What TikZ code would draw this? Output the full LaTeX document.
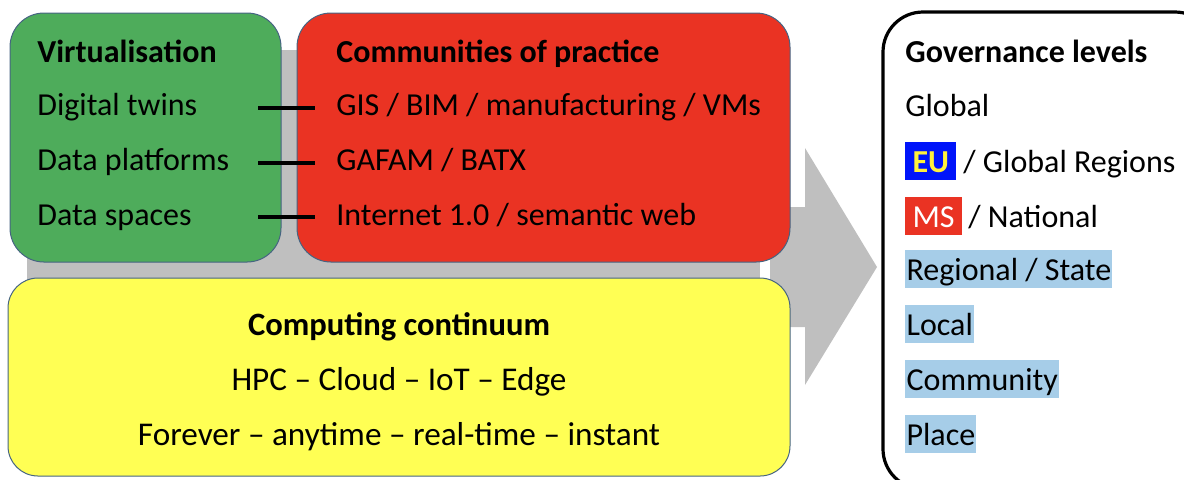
\documentclass[tikz,border=0pt]{standalone}
\usepackage{fontspec}
\setmainfont{Carlito}
\definecolor{cgreen}{RGB}{78,172,91}
\definecolor{cred}{RGB}{234,51,35}
\definecolor{cyellow}{RGB}{255,255,84}
\definecolor{agray}{RGB}{191,191,191}
\definecolor{outl}{RGB}{70,100,130}
\definecolor{hlblue}{RGB}{166,205,232}
\definecolor{eublue}{RGB}{0,20,250}
\definecolor{euyellow}{RGB}{255,240,60}
\begin{document}
\begin{tikzpicture}[x=0.5pt,y=-0.5pt,
  fnt/.style={font=\fontsize{16}{18}\selectfont},
  txt/.style={fnt,anchor=base west,inner sep=0pt},
  ctxt/.style={font=\fontsize{16.6}{19}\selectfont,anchor=base,inner sep=0pt},
  bfont/.style={font=\fontsize{16}{18}\selectfont\bfseries},
  cbfont/.style={font=\fontsize{16.3}{19}\selectfont\bfseries},
  box/.style={draw=outl,line width=0.5pt,rounded corners=17pt},
  link/.style={line width=2pt,black},
  tag/.style={fnt,anchor=base west,inner xsep=3.6pt,inner ysep=2pt,text height=13pt,text depth=2pt},
  hl/.style={fnt,anchor=base west,fill=hlblue,inner xsep=0.6pt,inner ysep=2pt,text height=13pt,text depth=2pt}]
\useasboundingbox (0,0) rectangle (1184,479);
\clip (0,0) rectangle (1184,479);
% gray arrow
\fill[agray] (27,50) rectangle (760,420);
\fill[agray] (770,207) -- (805,207) -- (805,148) -- (877,267) -- (805,385) -- (805,327) -- (770,327) -- cycle;
% boxes
\path[box,fill=cgreen] (10,13) rectangle (281,262);
\path[box,fill=cred] (297,13) rectangle (790,262);
\path[box,fill=cyellow,rounded corners=15pt] (8,278) rectangle (790,476);
\draw[line width=1.6pt,rounded corners=20pt] (883,12) rectangle (1215,489);
% green texts
\node[txt,bfont] (virt) at (37,62) {Virtualisation};
\node[txt] (dt) at (37,115) {Digital twins};
\node[txt] (dp) at (37,170) {Data platforms};
\node[txt] (ds) at (37,225) {Data spaces};
% red texts
\node[txt,bfont] (cop) at (336,62) {Communities of practice};
\node[txt] (gis) at (336,115) {GIS / BIM / manufacturing / VMs};
\node[txt] (gafam) at (336,170) {GAFAM / BATX};
\node[txt] (inet) at (336,225) {Internet 1.0 / semantic web};
% links
\coordinate (l1a) at (258,108); \coordinate (l1b) at (315,108);
\coordinate (l2a) at (258,163); \coordinate (l2b) at (315,163);
\coordinate (l3a) at (258,217); \coordinate (l3b) at (315,217);
\draw[link] (l1a) -- (l1b);
\draw[link] (l2a) -- (l2b);
\draw[link] (l3a) -- (l3b);
% yellow texts
\node[ctxt,cbfont] (cc) at (399,335) {Computing continuum};
\node[ctxt] (hpc) at (399,390) {HPC – Cloud – IoT – Edge};
\node[ctxt] (fev) at (399,445) {Forever – anytime – real-time – instant};
% governance
\node[txt,bfont] (gov) at (905,62) {Governance levels};
\node[txt] (glob) at (905,116) {Global};
\node[tag,fill=eublue,text=euyellow,bfont] (eu) at (905,172) {EU};
\node[txt] (eur) at (963,172) {/ Global Regions};
\node[tag,fill=cred,text=white] (ms) at (905,227) {MS};
\node[txt] (nat) at (968,227) {/ National};
\node[hl] (reg) at (905,280) {Regional / State};
\node[hl] (loc) at (905,335) {Local};
\node[hl] (com) at (905,390) {Community};
\node[hl] (plc) at (905,445) {Place};
\end{tikzpicture}
\end{document}
